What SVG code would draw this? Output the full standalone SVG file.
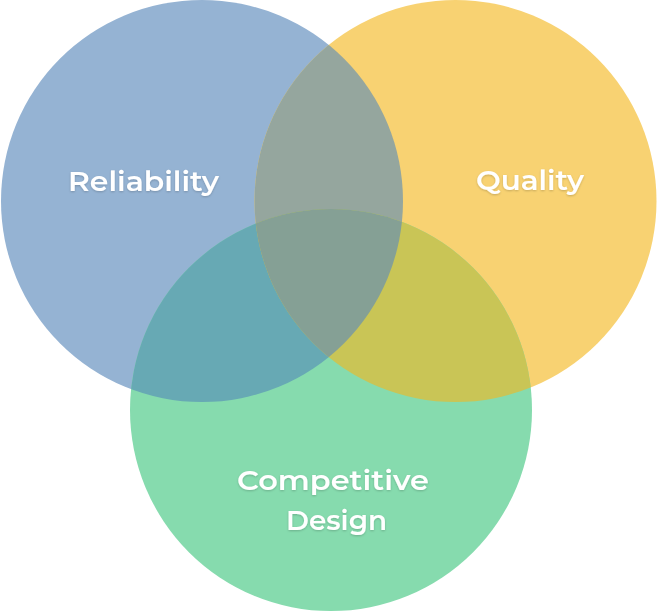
<svg xmlns="http://www.w3.org/2000/svg" width="657" height="613" viewBox="0 0 657 613">
  <style>
    .lbl { font-family: "Montserrat", "Noto Sans", "Open Sans", "Liberation Sans", sans-serif; font-weight: 600; font-size: 28px; fill: #ffffff; filter: url(#shadow); }
  </style>
  <defs>
    <filter id="shadow" x="-10%" y="-30%" width="120%" height="160%">
      <feDropShadow dx="0" dy="1" stdDeviation="1" flood-color="#000000" flood-opacity="0.2"/>
    </filter>
    <clipPath id="cBlue"><circle cx="202" cy="201" r="201"/></clipPath>
    <clipPath id="cYellow"><circle cx="455.5" cy="201" r="201"/></clipPath>
    <clipPath id="cGreen"><circle cx="331" cy="410" r="201"/></clipPath>
  </defs>
  <g id="nodes">
    <g id="reliability">
      <circle cx="202" cy="201" r="201" fill="#95b3d3"/>
    </g>
    <g id="quality">
      <circle cx="455.5" cy="201" r="201" fill="#f8d272"/>
    </g>
    <g id="competitive-design">
      <circle cx="331" cy="410" r="201" fill="#86dbae"/>
    </g>
    <g id="overlaps">
      <g clip-path="url(#cBlue)">
        <circle cx="455.5" cy="201" r="201" fill="#95a69e"/>
        <circle cx="331" cy="410" r="201" fill="#67a9b4"/>
      </g>
      <g clip-path="url(#cYellow)">
        <circle cx="331" cy="410" r="201" fill="#c9c556"/>
      </g>
      <g clip-path="url(#cBlue)">
        <g clip-path="url(#cYellow)">
          <circle cx="331" cy="410" r="201" fill="#85a095"/>
        </g>
      </g>
    </g>
    <g id="labels">
      <text class="lbl" x="68" y="191" textLength="151" lengthAdjust="spacingAndGlyphs">Reliability</text>
      <text class="lbl" x="476" y="190" textLength="108" lengthAdjust="spacingAndGlyphs">Quality</text>
      <text class="lbl" x="237" y="490" textLength="192" lengthAdjust="spacingAndGlyphs">Competitive</text>
      <text class="lbl" x="286" y="530" textLength="101" lengthAdjust="spacingAndGlyphs">Design</text>
    </g>
  </g>
  <g id="connectors"/>
</svg>
